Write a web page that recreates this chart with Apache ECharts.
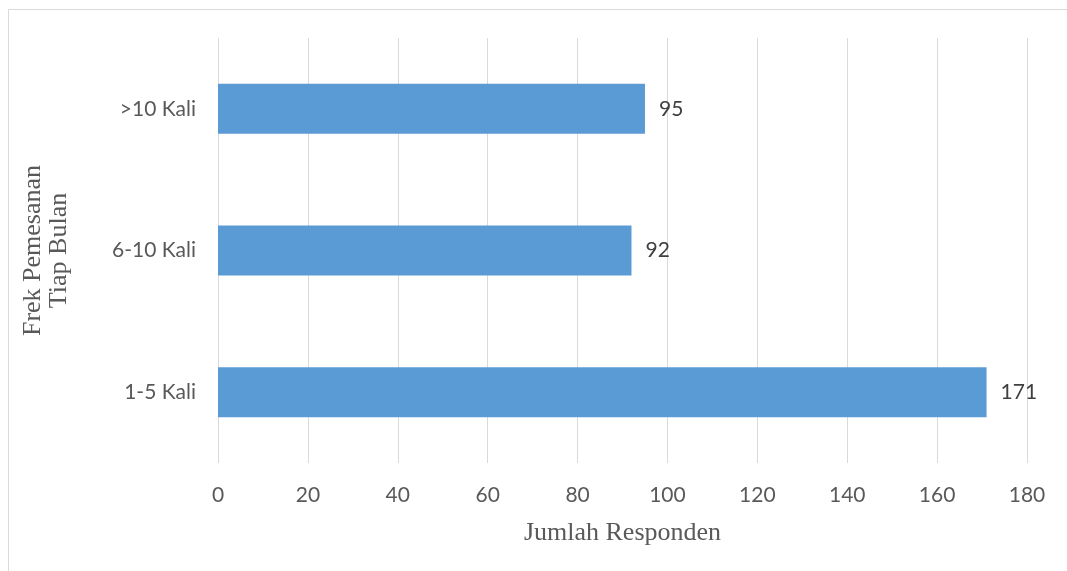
<!DOCTYPE html>
<html>
<head>
<meta charset="utf-8">
<script src="https://cdn.jsdelivr.net/npm/echarts@6/dist/echarts.min.js"></script>
<style>
  html, body { margin: 0; padding: 0; background: #fff; }
  #chart { width: 1067px; height: 571px; }
</style>
</head>
<body>
<div id="chart"></div>
<script>
var categories = ['1-5 Kali', '6-10 Kali', '>10 Kali'];
var responden = [171, 92, 95];
var xTicks = { min: 0, max: 180, interval: 20 };

var chart = echarts.init(document.getElementById('chart'));
var labelFont = 'Lato, "Open Sans", sans-serif';
var titleFont = '"Liberation Serif", "DejaVu Serif", serif';

chart.setOption({
  animation: false,
  graphic: [{
    type: 'rect',
    shape: { x: 8.5, y: 9.5, width: 1100, height: 600 },
    style: { fill: 'none', stroke: '#d9d9d9', lineWidth: 1 },
    silent: true
  }],
  grid: { left: 218, right: 40, top: 38, bottom: 108 },
  xAxis: {
    type: 'value',
    min: xTicks.min,
    max: xTicks.max,
    interval: xTicks.interval,
    name: 'Jumlah Responden',
    nameLocation: 'middle',
    nameGap: 57,
    nameTextStyle: { fontFamily: titleFont, fontSize: 26, color: '#595959' },
    axisLine: { show: false },
    axisTick: { show: false },
    axisLabel: { fontFamily: labelFont, fontSize: 21, color: '#595959', margin: 22 },
    splitLine: { lineStyle: { color: '#d9d9d9', width: 1 } }
  },
  yAxis: {
    type: 'category',
    data: categories,
    name: 'Frek Pemesanan\nTiap Bulan',
    nameLocation: 'middle',
    nameRotate: 90,
    nameGap: 146,
    nameTextStyle: { fontFamily: titleFont, fontSize: 26, color: '#595959', lineHeight: 26 },
    axisLine: { show: false },
    axisTick: { show: false },
    axisLabel: { fontFamily: labelFont, fontSize: 21, color: '#595959', margin: 22 },
    splitLine: { show: false }
  },
  series: [{
    type: 'bar',
    data: responden,
    barWidth: 50,
    itemStyle: { color: '#5b9bd5' },
    label: {
      show: true,
      position: 'right',
      distance: 14,
      fontFamily: labelFont,
      fontSize: 21,
      color: '#404040'
    }
  }]
});
</script>
</body>
</html>
